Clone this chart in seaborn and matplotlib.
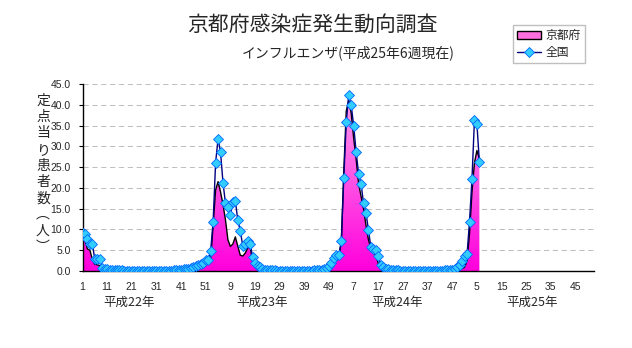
import numpy as np
import pandas as pd
import matplotlib
matplotlib.use("Agg")
import matplotlib.pyplot as plt
import seaborn as sns
from matplotlib.colors import LinearSegmentedColormap
from matplotlib.patches import Patch
from matplotlib.lines import Line2D

# ---------------- data (weekly values per sentinel) ----------------
national_h22 = [9.2, 8.8, 7.8, 6.4, 6.4, 2.9, 2.9, 2.9, 0.8, 0.6,
                0.5, 0.35, 0.3, 0.25, 0.2, 0.2, 0.15, 0.1, 0.1, 0.1,
                0.08, 0.06, 0.05, 0.05, 0.05, 0.05, 0.04, 0.04, 0.04, 0.05,
                0.05, 0.05, 0.05, 0.06, 0.08, 0.1, 0.12, 0.15, 0.2, 0.25,
                0.3, 0.4, 0.5, 0.6, 0.7, 0.9, 1.1, 1.4, 1.7, 2.0,
                2.6, 2.6]
national_h23 = [4.9, 11.9, 26.1, 31.8, 28.6, 21.2, 16.3, 15.5, 13.5, 16.5,
                16.9, 12.2, 9.7, 6.1, 6.4, 7.3, 6.6, 3.4, 2.0, 1.3,
                0.9, 0.5, 0.35, 0.3, 0.25, 0.2, 0.15, 0.1, 0.1, 0.08,
                0.06, 0.05, 0.05, 0.05, 0.05, 0.05, 0.05, 0.05, 0.05, 0.06,
                0.08, 0.1, 0.15, 0.2, 0.25, 0.3, 0.4, 0.7, 1.3, 2.0,
                3.2, 3.8]
national_h24 = [3.8, 7.2, 22.4, 35.8, 42.4, 39.9, 35.0, 28.7, 23.4, 20.9,
                16.4, 14.0, 9.9, 5.7, 5.3, 5.1, 3.7, 1.5, 0.9, 0.6,
                0.4, 0.3, 0.25, 0.2, 0.15, 0.1, 0.08, 0.06, 0.05, 0.05,
                0.04, 0.04, 0.04, 0.04, 0.04, 0.04, 0.05, 0.05, 0.05, 0.06,
                0.08, 0.1, 0.12, 0.15, 0.2, 0.25, 0.35, 0.5, 0.9, 1.5,
                2.3, 3.5]
national_h25 = [4.0, 11.9, 22.1, 36.3, 35.4, 26.3]

kyoto_h22 = [8.2, 7.5, 5.3, 5.0, 2.8, 1.6, 1.5, 1.3, 0.4, 0.2,
             0.1, 0.08, 0.05, 0.05, 0.04, 0.03, 0.03, 0.02, 0.02, 0.02,
             0.02, 0.02, 0.02, 0.02, 0.02, 0.02, 0.02, 0.02, 0.02, 0.02,
             0.02, 0.02, 0.02, 0.02, 0.03, 0.03, 0.04, 0.05, 0.06, 0.08,
             0.1, 0.12, 0.15, 0.2, 0.3, 0.4, 0.5, 0.6, 0.8, 1.2,
             1.8, 2.2]
kyoto_h23 = [2.8, 11.0, 19.5, 21.5, 19.0, 16.0, 12.3, 7.5, 5.9, 6.5,
             8.2, 6.0, 3.8, 3.6, 4.3, 5.5, 5.9, 2.3, 1.0, 0.5,
             0.3, 0.2, 0.1, 0.08, 0.05, 0.04, 0.03, 0.02, 0.02, 0.02,
             0.02, 0.02, 0.02, 0.02, 0.02, 0.02, 0.02, 0.02, 0.02, 0.03,
             0.04, 0.05, 0.08, 0.1, 0.15, 0.2, 0.3, 0.5, 0.8, 1.3,
             2.5, 3.2]
kyoto_h24 = [3.5, 7.0, 24.0, 38.5, 41.0, 38.0, 32.0, 27.0, 21.0, 18.0,
             15.0, 11.0, 7.5, 5.5, 4.6, 3.8, 1.8, 0.8, 0.3, 0.2,
             0.1, 0.08, 0.05, 0.04, 0.03, 0.02, 0.02, 0.02, 0.02, 0.02,
             0.02, 0.02, 0.02, 0.02, 0.02, 0.02, 0.02, 0.02, 0.02, 0.03,
             0.04, 0.05, 0.06, 0.08, 0.1, 0.15, 0.2, 0.25, 0.3, 0.4,
             0.6, 0.9]
kyoto_h25 = [2.5, 9.0, 19.0, 26.0, 29.0, 27.0]

tick_labels = ["1", "11", "21", "31", "41", "51", "9", "19", "29", "39", "49",
               "7", "17", "27", "37", "47", "5", "15", "25", "35", "45"]
year_labels = ["平成22年", "平成23年", "平成24年", "平成25年"]
y_ticks = [0, 5, 10, 15, 20, 25, 30, 35, 40, 45]
n_weeks_axis = 208

national = national_h22 + national_h23 + national_h24 + national_h25
kyoto = kyoto_h22 + kyoto_h23 + kyoto_h24 + kyoto_h25
df = pd.DataFrame({"idx": np.arange(len(national)), "全国": national, "京都府": kyoto})

# ---------------- style ----------------
sns.set_style("white")
plt.rcParams["font.family"] = ["Noto Sans CJK JP", "DejaVu Sans"]
NUMFONT = ["Liberation Sans", "DejaVu Sans"]

W, H = 632, 348
fig = plt.figure(figsize=(W / 100, H / 100), dpi=100)
ax = fig.add_axes([82.5 / W, 1 - 271 / H, 511 / W, 187 / H])

MS = 4.6
MFC, MEC = "#33CCFF", "#0066FF"

# Kyoto area with gradient fill
fb = ax.fill_between(df["idx"], 0, df["京都府"], facecolor="none", edgecolor="none", lw=0)
cmap = LinearSegmentedColormap.from_list("pk", ["#FF00DC", "#FFAAEE"])
grad = np.linspace(0, 1, 256).reshape(-1, 1)
im = ax.imshow(grad, extent=[0, len(kyoto) - 1, 0, 45], origin="lower",
               aspect="auto", cmap=cmap, zorder=1, interpolation="bilinear")
im.set_clip_path(fb.get_paths()[0], transform=ax.transData)

sns.lineplot(data=df, x="idx", y="京都府", color="black", lw=1.0, ax=ax, zorder=3)
sns.lineplot(data=df, x="idx", y="全国", color="#000080", lw=1.0, marker="D",
             markersize=MS, markerfacecolor=MFC, markeredgecolor=MEC,
             markeredgewidth=0.6, ax=ax, zorder=4)

ax.set_xlim(0, n_weeks_axis - 0.7)
ax.set_ylim(0, 45)
ax.set_xlabel("")
ax.set_ylabel("")

ax.set_yticks(y_ticks)
ax.set_yticklabels([f"{v:.1f}" for v in y_ticks], fontfamily=NUMFONT, fontsize=7.5)
ax.set_xticks(np.arange(0, 201, 10))
ax.set_xticklabels(tick_labels, fontfamily=NUMFONT, fontsize=7.5)
ax.set_xticks(np.arange(0, n_weeks_axis, 5), minor=True)
ax.tick_params(axis="x", which="both", direction="in", length=3, width=0.8,
               color="black", pad=8)
ax.tick_params(axis="y", which="major", direction="out", length=3, width=0.8,
               color="black", pad=5.5, left=True)

for s in ["top", "right"]:
    ax.spines[s].set_visible(False)
for s in ["left", "bottom"]:
    ax.spines[s].set_color("black")
    ax.spines[s].set_linewidth(1.0)

ax.yaxis.grid(True, color="#C0C0C0", linestyle=(0, (5, 3.5)), lw=0.75)
ax.xaxis.grid(False)
ax.set_axisbelow(True)

# titles
fig.text(312 / W, 1 - 25 / H, "京都府感染症発生動向調査", ha="center", va="center", fontsize=15)
fig.text(348.5 / W, 1 - 53 / H, "インフルエンザ(平成25年6週現在)", ha="center", va="center", fontsize=10)

# vertical y label
ylab = ["定", "点", "当", "り", "患", "者", "数", "︵", "人", "︶"]
fig.text(43 / W, 1 - 174 / H, "\n".join(ylab), ha="center", va="center",
         fontsize=10, linespacing=1.2)

# year labels
for xpix, lab in zip([129, 262, 397, 532], year_labels):
    fig.text(xpix / W, 1 - 302 / H, lab, ha="center", va="center", fontsize=9)

# legend
handles = [Patch(facecolor="#FF6FDD", edgecolor="black", lw=1.0),
           Line2D([], [], color="#000080", lw=1.0, marker="D", markersize=MS,
                  markerfacecolor=MFC, markeredgecolor=MEC, markeredgewidth=0.6)]
leg = fig.legend(handles, ["京都府", "全国"], loc="upper left",
                 bbox_to_anchor=(513 / W, 1 - 25 / H), fontsize=8.5, frameon=True,
                 fancybox=False, edgecolor="#B0B0B0", handlelength=2.0,
                 handletextpad=0.4, borderpad=0.35, labelspacing=0.35,
                 borderaxespad=0)
leg.get_frame().set_linewidth(1.0)

fig.savefig("out.png", dpi=100)
